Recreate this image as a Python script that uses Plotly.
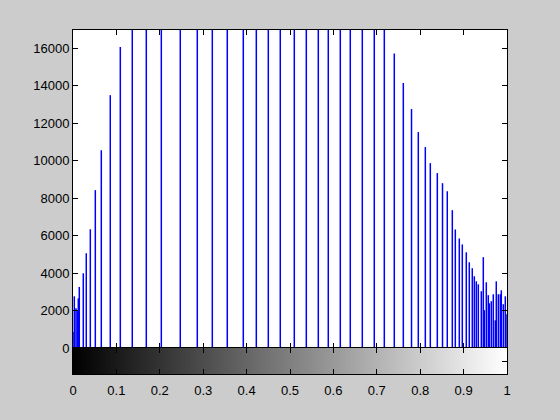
import numpy as np
import plotly.graph_objects as go

# Histogram bin positions (intensity, 0..1) and pixel counts
bin_x = [0.0, 0.003, 0.0069, 0.0099, 0.0122, 0.0145, 0.0237, 0.0306, 0.0399, 0.0514,
         0.0652, 0.0859, 0.109,
         0.1366, 0.1689, 0.2035, 0.2472, 0.2864, 0.3210, 0.3555, 0.3924, 0.4224, 0.4500,
         0.4776, 0.5099, 0.5376, 0.5652, 0.5882, 0.6159, 0.6389, 0.6666, 0.6942, 0.7173,
         0.7403, 0.7611, 0.7800, 0.7956, 0.8118, 0.8233, 0.8394, 0.8514, 0.8624, 0.8740,
         0.8809, 0.8901, 0.8970, 0.9062, 0.9131, 0.9200, 0.9247, 0.9293, 0.9339, 0.9408,
         0.9454, 0.9477, 0.9523, 0.9569, 0.9592, 0.9638, 0.9684, 0.9730, 0.9753, 0.9800,
         0.9846, 0.9869, 0.9915, 0.9961, 1.0]
counts = [850, 2760, 2120, 2000, 2650, 3260, 3990, 5060, 6340, 8430,
          10560, 13500, 16070,
          17500, 19000, 20500, 22000, 23500, 24500, 25500, 26000, 26500, 26800,
          27000, 26800, 26000, 25000, 24000, 22500, 21000, 19500, 18500, 17300,
          15730, 14150, 12760, 11530, 10730, 9870, 9340, 8800, 8370, 7360,
          6330, 5850, 5530, 5110, 4580, 4260, 3830, 3560, 3400, 3030,
          4850, 2020, 3510, 2820, 2390, 2500, 2870, 1480, 3560, 2870,
          2870, 3080, 2340, 2760, 1800]

y_ticks = [0, 2000, 4000, 6000, 8000, 10000, 12000, 14000, 16000]
y_top = 16980
x_ticks = [0, 0.1, 0.2, 0.3, 0.4, 0.5, 0.6, 0.7, 0.8, 0.9, 1.0]
x_tick_labels = ["0", "0.1", "0.2", "0.3", "0.4", "0.5", "0.6", "0.7", "0.8", "0.9", "1"]

xs, ys = [], []
for x, c in zip(bin_x, counts):
    xs += [x, x, None]
    ys += [0, c, None]

fig = go.Figure()
fig.add_trace(go.Scatter(x=xs, y=ys, mode="lines",
                         line=dict(color="#0000ff", width=1.5),
                         xaxis="x", yaxis="y", hoverinfo="skip", showlegend=False))

grad = np.linspace(0, 1, 256)
fig.add_trace(go.Heatmap(x=grad, y=[0], z=[grad],
                         colorscale=[[0, "black"], [1, "white"]],
                         showscale=False, xaxis="x2", yaxis="y2", hoverinfo="skip"))

split = 26 / 344
axis_common = dict(showline=True, linecolor="black", linewidth=1, mirror="ticks",
                   ticks="inside", ticklen=5, tickcolor="black",
                   showgrid=False, zeroline=False)

fig.update_layout(
    width=560, height=420,
    margin=dict(l=73, r=53, t=30, b=46),
    paper_bgcolor="#cccccc", plot_bgcolor="white",
    font=dict(family="Liberation Sans, Arial, sans-serif", size=13, color="black"),
    showlegend=False,
    xaxis=dict(domain=[0, 1], anchor="y", range=[0, 1], tickvals=x_ticks,
               showticklabels=False, **axis_common),
    yaxis=dict(domain=[split, 1], anchor="x", range=[0, y_top], tickvals=y_ticks,
               ticktext=[str(v) for v in y_ticks], **axis_common),
    xaxis2=dict(domain=[0, 1], anchor="y2", range=[0, 1], tickvals=x_ticks,
                ticktext=x_tick_labels, ticklabelstandoff=4, **axis_common),
    yaxis2=dict(domain=[0, split], anchor="x2", range=[-0.5, 0.5], tickvals=[0],
                showticklabels=False, **axis_common),
)

fig.write_html("out.html",
               config={"displayModeBar": False},
               post_script="document.body.style.margin='0';"
                           "document.body.style.background='#cccccc';")
